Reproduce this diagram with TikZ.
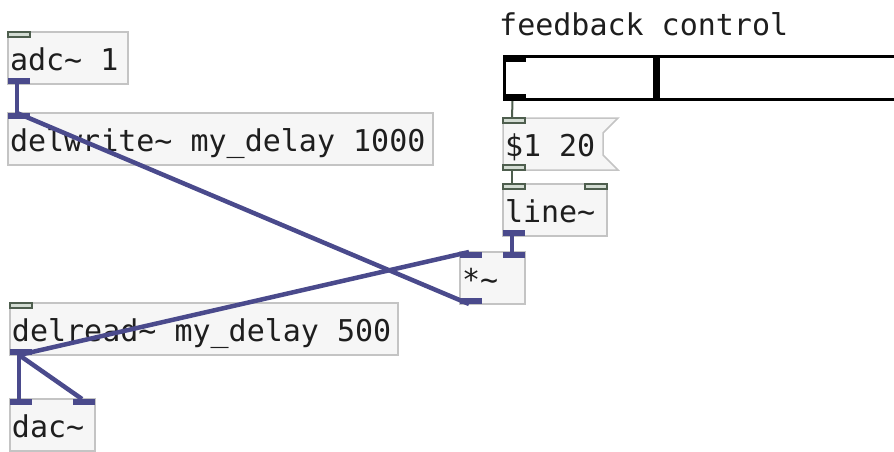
\documentclass[tikz,border=0pt]{standalone}
\usepackage{fontspec}
\newfontfamily\pdmono[WordSpace={1,0,0}]{DejaVu Sans Mono}
\usetikzlibrary{calc,backgrounds}
\definecolor{csig}{HTML}{4A4A8C}
\definecolor{cctl}{HTML}{4E5E4E}
\definecolor{cctlfill}{HTML}{D3DCD3}
\definecolor{cbox}{HTML}{C4C4C4}
\definecolor{cboxfill}{HTML}{F6F6F6}
\definecolor{ctext}{HTML}{1E1E1E}

\begin{document}
\begin{tikzpicture}[x=1pt,y=-1pt,
  pdbox/.style={draw=cbox,fill=cboxfill,line width=1.5pt,anchor=north west,
    inner xsep=2pt,inner ysep=0pt,outer sep=0pt,minimum height=52pt,
    align=left,text height=25pt,text depth=0pt,text=ctext,
    font=\pdmono\fontsize{30}{36}\selectfont,
    execute at begin node={\spaceskip=\fontdimen2\font\relax}},
  sigport/.style={fill=csig},
  ctlport/.style={draw=cctl,fill=cctlfill,line width=1.2pt},
  sigwire/.style={csig,line width=4.5pt},
  ctlwire/.style={cctl,line width=2pt}]
  \clip (0,0) rectangle (894,451);

  % left column: input, delay line, output
  \node[pdbox,text width=116pt] (adc) at (8,32) {adc\textasciitilde{} 1};
  \node[pdbox,text width=421pt] (dwrite) at (8,113)
    {delwrite\textasciitilde{} my\_delay 1000};
  \node[pdbox,text width=384pt] (dread) at (10,303)
    {delread\textasciitilde{} my\_delay 500};
  \node[pdbox,text width=81pt] (dac) at (10,399) {dac\textasciitilde};

  % feedback slider with its label
  \node[anchor=base west,inner sep=0pt,text=ctext,
    font=\pdmono\fontsize{30}{36}\selectfont] (fblabel) at (499,35)
    {feedback control};
  \node[draw=black,line width=3pt,anchor=north west,inner sep=0pt,
    outer sep=0pt,minimum width=450pt,minimum height=43pt]
    (fbslider) at (504.5,56.5) {};
  \fill ($(fbslider.north west)+(-1.5,-1.5)$) rectangle ++(23,7);
  \fill ($(fbslider.south west)+(-1.5,1.5)$) rectangle ++(23,-7);
  \fill ($(fbslider.north west)+(148.5,0)$) rectangle
    ($(fbslider.south west)+(155.5,0)$);

  % right column: ramp and gain
  \node[pdbox,draw=none,fill=none,text width=96pt] (msg) at (503,118)
    {\$1 20};
  \node[pdbox,text width=100pt] (ramp) at (503,184) {line\textasciitilde};
  \node[pdbox,text width=61pt] (gain) at (460,252) {*\textasciitilde};

  \begin{scope}[on background layer]
    \fill[white] (0,0) rectangle (894,451);
    \draw[draw=cbox,fill=cboxfill,line width=1.5pt] (msg.north west)
      -- ($(msg.north east)+(15,0)$) -- ($(msg.north east)+(0,15)$)
      -- ($(msg.south east)+(0,-15)$) -- ($(msg.south east)+(15,0)$)
      -- (msg.south west) -- cycle;
  \end{scope}

  % inlets and outlets
  \draw[ctlport] (adc.north west) rectangle ++(22,5);
  \fill[sigport] (adc.south west) rectangle ++(22,-6);
  \fill[sigport] (dwrite.north west) rectangle ++(22,6);
  \draw[ctlport] (dread.north west) rectangle ++(22,5);
  \fill[sigport] (dread.south west) rectangle ++(22,-6);
  \fill[sigport] (dac.north west) rectangle ++(22,6);
  \fill[sigport] ($(dac.north east)+(-22,0)$) rectangle ++(22,6);
  \draw[ctlport] (msg.north west) rectangle ++(22,5);
  \draw[ctlport] (msg.south west) rectangle ++(22,-5);
  \draw[ctlport] (ramp.north west) rectangle ++(22,5);
  \draw[ctlport] ($(ramp.north east)+(-22,0)$) rectangle ++(22,5);
  \fill[sigport] (ramp.south west) rectangle ++(22,-6);
  \fill[sigport] (gain.north west) rectangle ++(22,6);
  \fill[sigport] ($(gain.north east)+(-22,0)$) rectangle ++(22,6);
  \fill[sigport] (gain.south west) rectangle ++(22,-6);

  % connection points
  \coordinate (adc-o) at ($(adc.south west)+(9,0)$);
  \coordinate (dwrite-i) at ($(dwrite.north west)+(9,0)$);
  \coordinate (dread-o) at ($(dread.south west)+(9,0)$);
  \coordinate (dac-l) at ($(dac.north west)+(9,0)$);
  \coordinate (dac-r) at ($(dac.north east)+(-13,0)$);
  \coordinate (fb-o) at ($(fbslider.south west)+(8,1.5)$);
  \coordinate (msg-i) at ($(msg.north west)+(9,0)$);
  \coordinate (msg-o) at ($(msg.south west)+(9,0)$);
  \coordinate (ramp-i) at ($(ramp.north west)+(9,0)$);
  \coordinate (ramp-o) at ($(ramp.south west)+(9,0)$);
  \coordinate (gain-l) at ($(gain.north west)+(9,0)$);
  \coordinate (gain-r) at ($(gain.north east)+(-13,0)$);
  \coordinate (gain-o) at ($(gain.south west)+(9,0)$);

  % patch cords
  \draw[ctlwire] (fb-o) -- (msg-i);
  \draw[ctlwire] (msg-o) -- (ramp-i);
  \draw[sigwire] (ramp-o) -- (gain-r);
  \draw[sigwire] (adc-o) -- (dwrite-i);
  \draw[sigwire] (gain-o) -- (dwrite-i);
  \draw[sigwire] (dread-o) -- (gain-l);
  \draw[sigwire] (dread-o) -- (dac-l);
  \draw[sigwire] (dread-o) -- (dac-r);
\end{tikzpicture}
\end{document}
